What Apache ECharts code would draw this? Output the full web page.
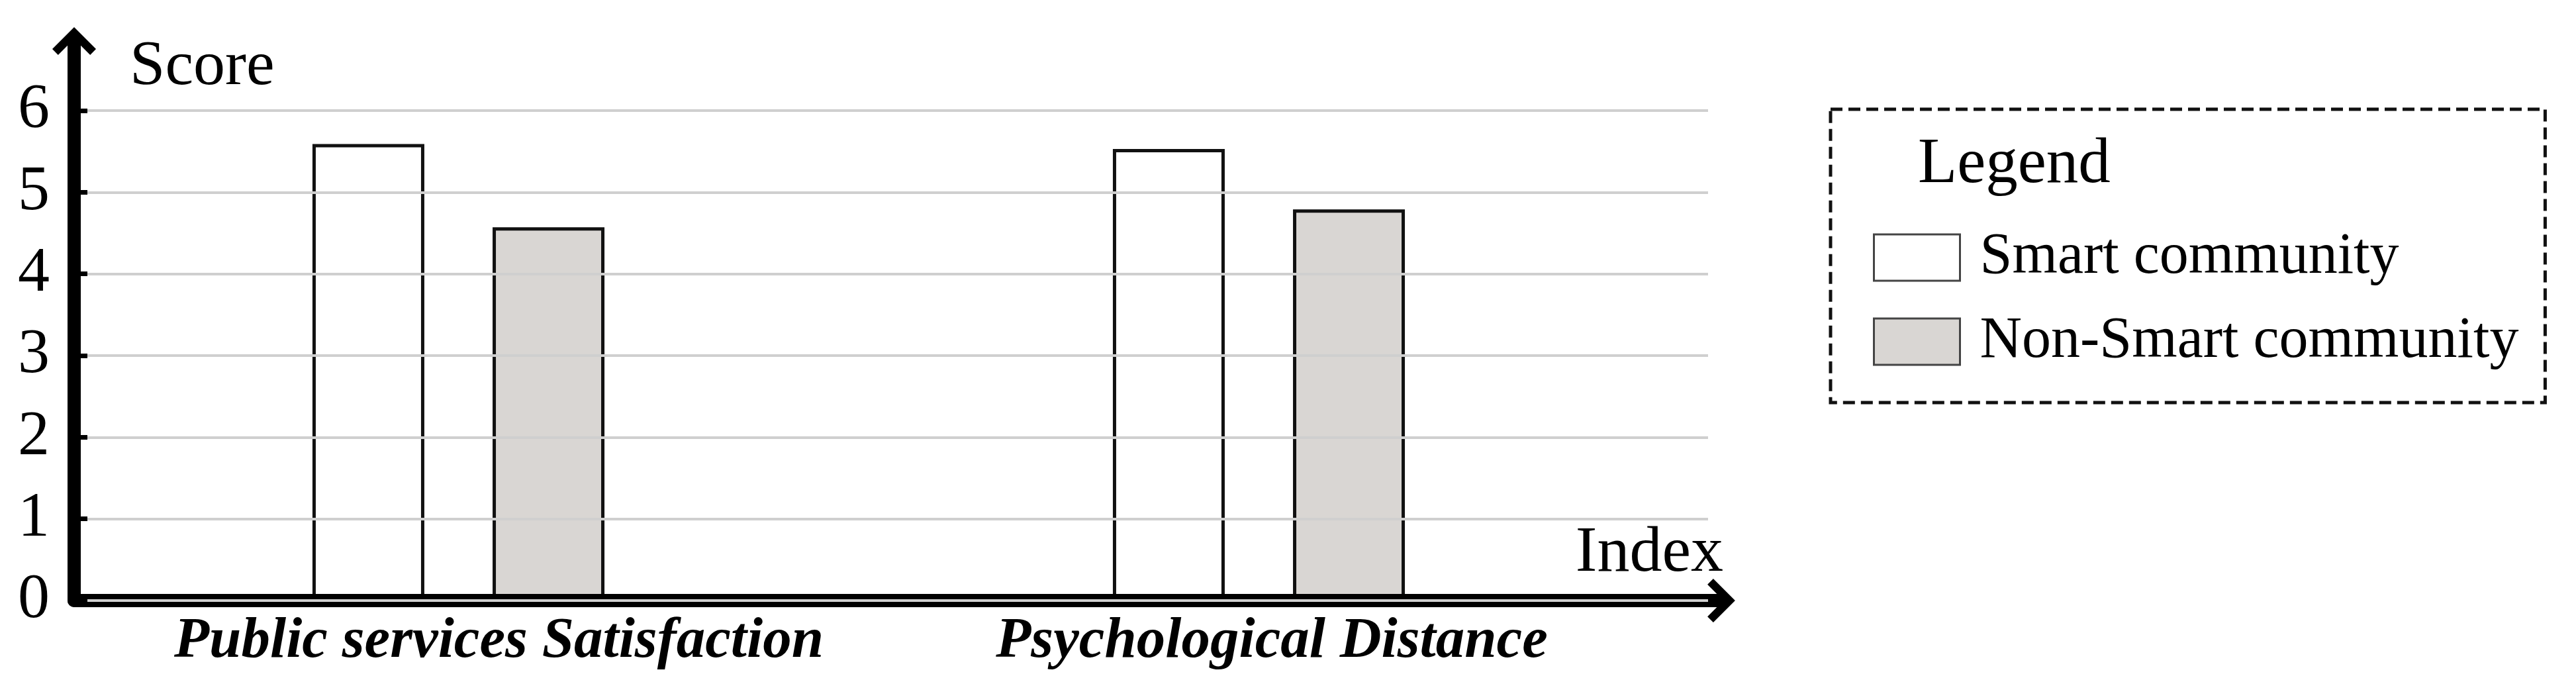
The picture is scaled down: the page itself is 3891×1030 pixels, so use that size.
<!DOCTYPE html>
<html>
<head>
<meta charset="utf-8">
<title>Score by index</title>
<script src="https://cdn.jsdelivr.net/npm/echarts@6/dist/echarts.min.js"></script>
<style>
  html, body { margin: 0; padding: 0; background: #fff; }
  #main { width: 3891px; height: 1030px; }
</style>
</head>
<body>
<div id="main"></div>
<script>
// data
const categories = ['Public services Satisfaction', 'Psychological Distance']
const seriesNames = ['Smart community', 'Non-Smart community']
const smartScores = [5.59, 5.53]
const nonSmartScores = [4.57, 4.79]
const scoreMin = 0
const scoreMax = 6
const scoreStep = 1

const serif = 'Liberation Serif, Times New Roman, serif'
// open chevron used as the axis arrow head (points up, rotated by echarts)
const chevron = 'path://M30,0 L60,30 L52,38 L30,16 L8,38 L0,30 Z'

const myChart = echarts.init(document.getElementById('main'))

// the two black axes with arrow heads
const frameLine = () => ({
  show: true,
  symbol: ['none', chevron],
  symbolSize: [66, 44],
  lineStyle: { color: '#000', width: 20 }
})

const option = {
  animation: false,
  backgroundColor: '#fff',
  title: {
    text: 'Legend',
    left: 2897,
    top: 201,
    padding: 0,
    textStyle: { fontFamily: serif, fontSize: 97, fontWeight: 'normal', color: '#000' }
  },
  legend: {
    data: seriesNames,
    orient: 'vertical',
    left: 2765,
    top: 165,
    padding: [180, 40, 48, 64],
    itemWidth: 130,
    itemHeight: 70,
    itemGap: 39,
    icon: 'rect',
    borderColor: '#111',
    borderWidth: 5,
    borderType: [18, 9],
    itemStyle: { borderColor: '#444', borderWidth: 3 },
    textStyle: {
      fontFamily: serif,
      fontSize: 88,
      color: '#000',
      padding: [0, 0, 0, 25]
    }
  },
  grid: [
    // frame with the two arrows
    { left: 112, right: 1291, top: 62, bottom: 123 },
    // grid lines, ticks and score labels
    { left: 132, right: 1311, top: 167, bottom: 123 },
    // bars
    { left: 88, right: 1385, top: 167, bottom: 123 }
  ],
  xAxis: [
    {
      gridIndex: 0,
      type: 'value',
      min: 0,
      max: 1,
      z: 5,
      name: 'Index',
      nameLocation: 'end',
      nameGap: 3,
      nameTextStyle: {
        fontFamily: serif,
        fontSize: 98,
        color: '#000',
        align: 'right',
        verticalAlign: 'bottom',
        lineHeight: 98,
        padding: [0, 0, 22, 0]
      },
      axisLine: frameLine(),
      axisTick: { show: false },
      axisLabel: { show: false },
      splitLine: { show: false }
    },
    {
      gridIndex: 1,
      type: 'value',
      show: false
    },
    {
      gridIndex: 2,
      type: 'category',
      data: categories,
      axisLine: { show: false },
      axisTick: { show: false },
      axisLabel: {
        interval: 0,
        hideOverlap: false,
        margin: 19,
        verticalAlign: 'top',
        fontFamily: serif,
        fontSize: 87,
        fontWeight: 'bold',
        fontStyle: 'italic',
        color: '#000',
        formatter: (value, index) => '{c' + index + '|' + value + '}',
        rich: {
          c0: { fontFamily: serif, fontSize: 87, fontWeight: 'bold', fontStyle: 'italic', color: '#000', padding: [0, 0, 0, 122] },
          c1: { fontFamily: serif, fontSize: 87, fontWeight: 'bold', fontStyle: 'italic', color: '#000', padding: [0, 0, 0, 39] }
        }
      }
    }
  ],
  yAxis: [
    {
      gridIndex: 0,
      type: 'value',
      min: 0,
      max: 1,
      z: 5,
      name: 'Score',
      nameLocation: 'end',
      nameGap: -40,
      nameTextStyle: {
        fontFamily: serif,
        fontSize: 96,
        color: '#000',
        align: 'left',
        verticalAlign: 'middle',
        padding: [0, 0, 0, 84]
      },
      axisLine: frameLine(),
      axisTick: { show: false },
      axisLabel: { show: false },
      splitLine: { show: false }
    },
    {
      gridIndex: 1,
      type: 'value',
      min: scoreMin,
      max: scoreMax,
      interval: scoreStep,
      offset: 20,
      z: 6,
      axisLine: { show: false },
      axisTick: { show: true, length: 20, lineStyle: { color: '#000', width: 7 } },
      axisLabel: { margin: 37, fontFamily: serif, fontSize: 96, color: '#000' },
      splitLine: { show: true, lineStyle: { color: '#cfcfcf', width: 4 } }
    },
    {
      // inner half of the ticks
      gridIndex: 1,
      type: 'value',
      min: scoreMin,
      max: scoreMax,
      interval: scoreStep,
      offset: 20,
      position: 'left',
      z: 6,
      axisLine: { show: false },
      axisTick: { show: true, inside: true, length: 20, lineStyle: { color: '#000', width: 7 } },
      axisLabel: { show: false },
      splitLine: { show: false }
    },
    {
      gridIndex: 2,
      type: 'value',
      min: scoreMin,
      max: scoreMax,
      interval: scoreStep,
      show: false
    }
  ],
  series: [
    {
      name: seriesNames[0],
      type: 'bar',
      xAxisIndex: 2,
      yAxisIndex: 3,
      data: smartScores,
      barWidth: 169,
      barGap: '61%',
      itemStyle: { color: '#ffffff', borderColor: '#111', borderWidth: 5 }
    },
    {
      name: seriesNames[1],
      type: 'bar',
      xAxisIndex: 2,
      yAxisIndex: 3,
      data: nonSmartScores,
      barWidth: 169,
      barGap: '61%',
      itemStyle: { color: '#d9d6d3', borderColor: '#111', borderWidth: 5 }
    }
  ]
}
myChart.setOption(option)
</script>
</body>
</html>
